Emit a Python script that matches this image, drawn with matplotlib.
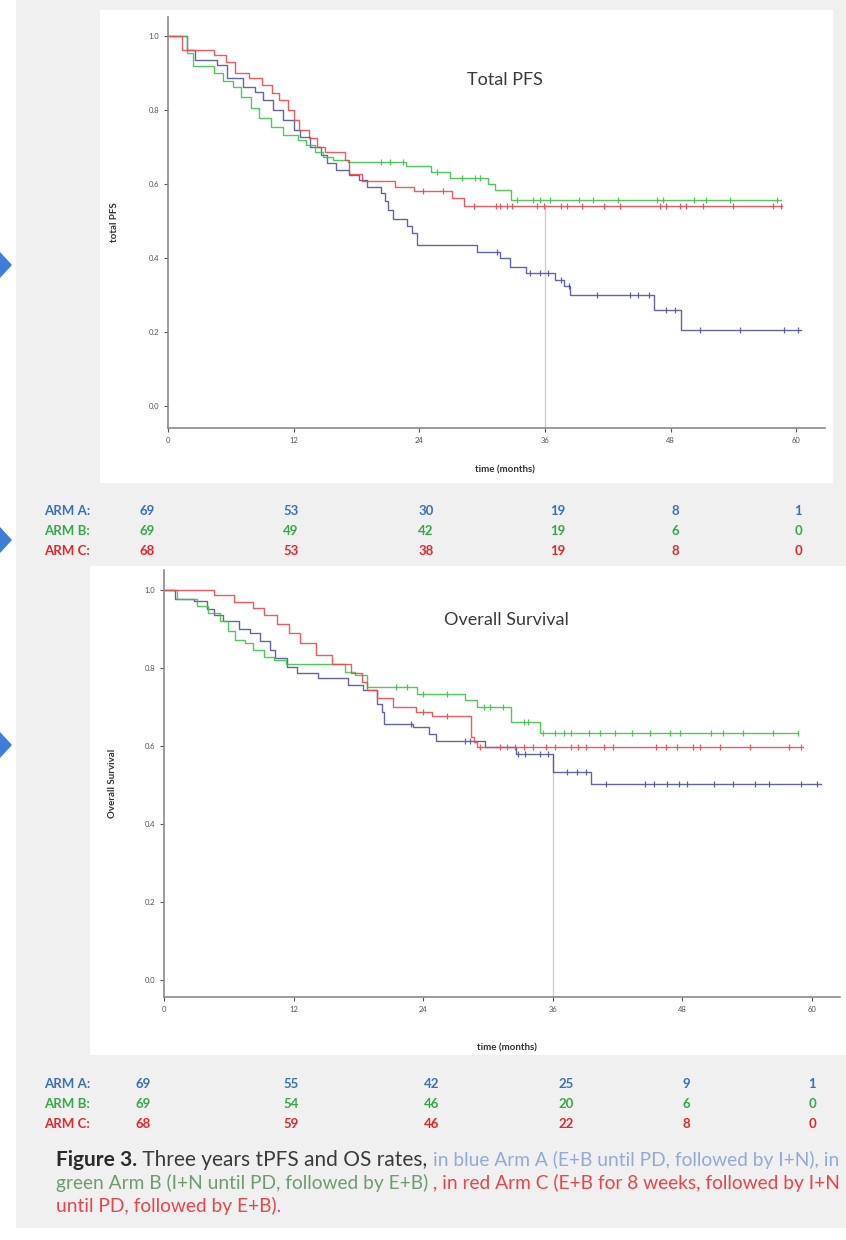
import numpy as np
import matplotlib
matplotlib.use("Agg")
import matplotlib.pyplot as plt
from matplotlib.patches import Rectangle, Polygon

plt.rcParams['font.family'] = ['Lato', 'DejaVu Sans']

W, H = 846, 1240

# ---- Total PFS curves (months, survival after the step) ----
pfs_a_t = [0, 1.8, 2.6, 4.7, 5.6, 7.2, 8.3, 9.1, 10.0, 11.0, 12.0, 12.6, 13.6, 14.6, 15.2, 16.0,
           17.3, 18.2, 19.0, 20.3, 20.7, 21.0, 21.5, 22.8, 23.3, 23.75, 29.5, 31.7, 32.7, 34.2,
           37.0, 37.8, 38.4, 46.4, 49.0]
pfs_a_s = [1.0, 0.962, 0.935, 0.921, 0.885, 0.863, 0.849, 0.827, 0.80, 0.773, 0.746, 0.728, 0.70,
           0.678, 0.656, 0.638, 0.625, 0.61, 0.593, 0.575, 0.555, 0.53, 0.505, 0.485, 0.467, 0.435,
           0.417, 0.40, 0.376, 0.359, 0.34, 0.325, 0.30, 0.258, 0.205]
pfs_a_end = 60.5
pfs_b_t = [0, 1.8, 2.4, 4.4, 5.3, 6.2, 7.0, 7.9, 8.7, 9.8, 11.0, 12.4, 13.2, 14.0, 14.8, 15.8,
           17.2, 22.7, 25.1, 26.9, 30.6, 31.2, 32.8]
pfs_b_s = [1.0, 0.955, 0.919, 0.90, 0.878, 0.863, 0.836, 0.804, 0.777, 0.755, 0.732, 0.72, 0.705,
           0.686, 0.673, 0.665, 0.66, 0.648, 0.633, 0.615, 0.60, 0.584, 0.557]
pfs_b_end = 58.5
pfs_c_t = [0, 1.3, 4.4, 5.5, 6.4, 7.7, 9.0, 9.9, 10.6, 11.5, 12.0, 12.5, 13.5, 14.2, 15.0, 16.9,
           17.3, 18.5, 21.7, 23.5, 27.1, 28.3]
pfs_c_s = [1.0, 0.962, 0.949, 0.93, 0.899, 0.885, 0.867, 0.845, 0.827, 0.80, 0.773, 0.746, 0.723,
           0.70, 0.686, 0.664, 0.628, 0.607, 0.593, 0.58, 0.562, 0.539]
pfs_c_end = 58.6
pfs_a_cens = [31.4, 34.6, 35.5, 36.3, 37.5, 38.3, 41.0, 44.1, 44.9, 45.9, 47.6, 48.4, 50.8, 54.6,
              58.8, 60.2]
pfs_b_cens = [20.3, 21.2, 22.4, 25.7, 28.1, 29.3, 29.8, 33.3, 34.9, 35.5, 36.5, 39.3, 40.6, 43.0,
              46.7, 47.3, 50.2, 51.4, 53.7, 58.2]
pfs_c_cens = [24.4, 26.3, 29.2, 31.3, 31.7, 32.4, 32.9, 35.2, 35.9, 37.5, 38.1, 39.5, 41.6, 43.2,
              47.0, 47.6, 48.9, 49.5, 51.1, 54.0, 57.8, 58.5]

# ---- Overall survival curves ----
os_a_t = [0, 1.0, 2.8, 4.0, 4.6, 5.5, 6.9, 8.0, 8.9, 9.8, 10.3, 11.4, 12.3, 14.3, 17.0, 18.4,
          19.7, 20.2, 20.4, 23.1, 24.5, 25.2, 29.7, 32.6, 36.0, 39.5]
os_a_s = [1.0, 0.976, 0.971, 0.95, 0.935, 0.92, 0.90, 0.889, 0.868, 0.846, 0.825, 0.803, 0.786,
          0.773, 0.756, 0.743, 0.708, 0.687, 0.656, 0.648, 0.63, 0.612, 0.598, 0.58, 0.534, 0.503]
os_a_end = 60.8
os_b_t = [0, 1.2, 3.1, 4.1, 5.2, 5.9, 6.6, 7.5, 8.2, 9.3, 10.2, 11.3, 16.8, 17.7, 18.8, 23.4,
          27.9, 29.0, 32.1, 34.8]
os_b_s = [1.0, 0.976, 0.959, 0.94, 0.92, 0.894, 0.872, 0.864, 0.846, 0.829, 0.82, 0.81, 0.79,
          0.781, 0.751, 0.734, 0.717, 0.70, 0.662, 0.633]
os_b_end = 58.7
os_c_t = [0, 4.6, 6.5, 8.2, 9.3, 10.5, 11.6, 12.6, 14.1, 15.6, 17.3, 18.3, 18.8, 19.7, 21.2,
          23.3, 24.8, 28.4, 28.7, 29.0]
os_c_s = [1.0, 0.987, 0.97, 0.953, 0.936, 0.912, 0.889, 0.863, 0.833, 0.81, 0.786, 0.765, 0.744,
          0.722, 0.70, 0.687, 0.678, 0.622, 0.609, 0.598]
os_c_end = 59.2
os_a_cens = [22.9, 27.9, 28.3, 32.8, 33.4, 34.8, 35.6, 37.3, 38.2, 39.1, 40.9, 44.5, 45.4, 46.6,
             47.7, 48.4, 50.9, 52.7, 54.7, 56.0, 59.0, 60.5]
os_b_cens = [21.5, 22.5, 24.0, 26.2, 29.6, 30.2, 31.4, 33.3, 33.7, 35.1, 36.2, 37.0, 37.7, 39.4,
             40.4, 41.8, 43.3, 45.0, 46.9, 47.8, 50.7, 51.8, 53.6, 56.4, 58.7]
os_c_cens = [24.0, 26.2, 29.3, 31.1, 31.8, 32.5, 33.3, 34.2, 35.4, 36.2, 37.7, 38.3, 39.1, 40.7,
             41.6, 45.6, 46.5, 47.5, 49.0, 49.6, 51.5, 54.3, 57.9, 59.0]

# ---- numbers at risk ----
arm_labels = ["ARM A:", "ARM B:", "ARM C:"]
pfs_risk_a = [69, 53, 30, 19, 8, 1]
pfs_risk_b = [69, 49, 42, 19, 6, 0]
pfs_risk_c = [68, 53, 38, 19, 8, 0]
os_risk_a = [69, 55, 42, 25, 9, 1]
os_risk_b = [69, 54, 46, 20, 6, 0]
os_risk_c = [68, 59, 46, 22, 8, 0]

month_ticks = [0, 12, 24, 36, 48, 60]
surv_ticks = [0.0, 0.2, 0.4, 0.6, 0.8, 1.0]

line_cols = ['#50559e', '#3fc24d', '#ea4a50']
text_cols = ['#3b70b8', '#35a848', '#e2282e']


def fx(x):
    return x / W


def fy(y):
    return 1 - y / H


fig = plt.figure(figsize=(W / 100, H / 100), dpi=100)
fig.patch.set_facecolor('white')

# page background and white image panels (behind the axes)
fig.patches.append(Rectangle((fx(16), fy(1228)), fx(830), 1228 / H, transform=fig.transFigure,
                             facecolor='#f0f0f0', edgecolor='none', zorder=-3))
fig.patches.append(Rectangle((fx(100), fy(483)), fx(733), 473 / H, transform=fig.transFigure,
                             facecolor='white', edgecolor='none', zorder=-2))
fig.patches.append(Rectangle((fx(90), fy(1055)), fx(756), 489 / H, transform=fig.transFigure,
                             facecolor='white', edgecolor='none', zorder=-2))

# blue arrows at the left edge
for ay in [265, 540, 745]:
    fig.patches.append(Polygon([(0, fy(ay - 13)), (fx(12), fy(ay)), (0, fy(ay + 13))],
                               closed=True, transform=fig.transFigure,
                               facecolor='#3d7fd6', edgecolor='none', zorder=-1))


def step_at(t, s, x):
    i = np.searchsorted(t, x, side='right') - 1
    return np.asarray(s)[i]


def km_panel(rect, xmax, ymin, curves, title, title_xy, ylabel, ylab_xy, xlab_xy, ref_top):
    ax = fig.add_axes(rect)
    ax.set_facecolor('none')
    for (t, s, end, cens), col in zip(curves, line_cols):
        ax.step(list(t) + [end], list(s) + [s[-1]], where='post', color=col, lw=1.0, alpha=0.9)
        ax.plot(cens, step_at(t, s, cens), ls='none', marker='|', ms=4, mew=0.9, color=col,
                alpha=0.9)
    ax.vlines(36, ymin, ref_top, color='#d0d0d0', lw=1.0, zorder=0)
    ax.set_xlim(0, xmax)
    ax.set_ylim(ymin, 1.051)
    ax.set_xticks(month_ticks)
    ax.set_yticks(surv_ticks)
    ax.set_yticklabels([f"{v:.1f}" for v in surv_ticks])
    ax.tick_params(labelsize=5.5, colors='#555555', length=3, width=0.8)
    for side in ['top', 'right']:
        ax.spines[side].set_visible(False)
    for side in ['left', 'bottom']:
        ax.spines[side].set_color('#8a8a8a')
        ax.spines[side].set_linewidth(1.2)
    ax.text(title_xy[0], title_xy[1], title, ha='center', va='center', fontsize=13,
            color='#3a3a3a')
    ax.set_ylabel(ylabel, fontsize=7, fontweight='bold', color='#333333')
    ax.yaxis.set_label_coords(*ylab_xy)
    ax.set_xlabel('time (months)', fontsize=7, fontweight='bold', color='#333333')
    ax.xaxis.set_label_coords(*xlab_xy)
    return ax


# top panel: Total PFS
km_panel([fx(168), fy(428), (825 - 168) / W, (428 - 17) / H], 62.75, -0.0595,
         [(pfs_a_t, pfs_a_s, pfs_a_end, pfs_a_cens),
          (pfs_b_t, pfs_b_s, pfs_b_end, pfs_b_cens),
          (pfs_c_t, pfs_c_s, pfs_c_end, pfs_c_cens)],
         'Total PFS', (32.2, 0.881), 'total PFS', (-0.075, 0.5), (0.513, -0.09), 0.545)

# bottom panel: Overall Survival
km_panel([fx(164), fy(997), (840 - 164) / W, (997 - 570) / H], 62.6, -0.0436,
         [(os_a_t, os_a_s, os_a_end, os_a_cens),
          (os_b_t, os_b_s, os_b_end, os_b_cens),
          (os_c_t, os_c_s, os_c_end, os_c_cens)],
         'Overall Survival', (31.7, 0.923), 'Overall Survival', (-0.07, 0.5), (0.507, -0.108),
         0.58)


def risk_table(rows_y, num_x, tables):
    for y, lab, vals, col in zip(rows_y, arm_labels, tables, text_cols):
        fig.text(fx(44), fy(y), lab, ha='left', va='center', fontsize=9.5, fontweight='bold',
                 color=col)
        for x, v in zip(num_x, vals):
            fig.text(fx(x), fy(y), str(v), ha='center', va='center', fontsize=9.5,
                     fontweight='bold', color=col)


risk_table([511, 531, 551], [147, 291, 426, 558, 675, 798], [pfs_risk_a, pfs_risk_b, pfs_risk_c])
risk_table([1084, 1104, 1124], [143, 291, 432, 566, 686, 812], [os_risk_a, os_risk_b, os_risk_c])

# caption, written in coloured pieces
caption_lines = [
    [("Figure 3.", '#2a2a2a', 'bold', 15), (" Three years tPFS and OS rates, ", '#3a3a3a', 'normal', 15),
     ("in blue Arm A (E+B until PD, followed by I+N), in", '#93a9d6', 'normal', 13.8)],
    [("green Arm B (I+N until PD, followed by E+B)", '#6f9c6f', 'normal', 13.8),
     (" , in red Arm C (E+B for 8 weeks, followed by I+N", '#e6474c', 'normal', 13.8)],
    [("until PD, followed by E+B).", '#e6474c', 'normal', 13.8)],
]
caption_y = [1160, 1183, 1206]

renderer = fig.canvas.get_renderer()
for line, y in zip(caption_lines, caption_y):
    x = 56
    for txt, col, wt, size in line:
        t = fig.text(fx(x), fy(y), txt, ha='left', va='center', fontsize=size, fontweight=wt,
                     color=col)
        x += t.get_window_extent(renderer=renderer).width

fig.savefig('out.png', dpi=100)
